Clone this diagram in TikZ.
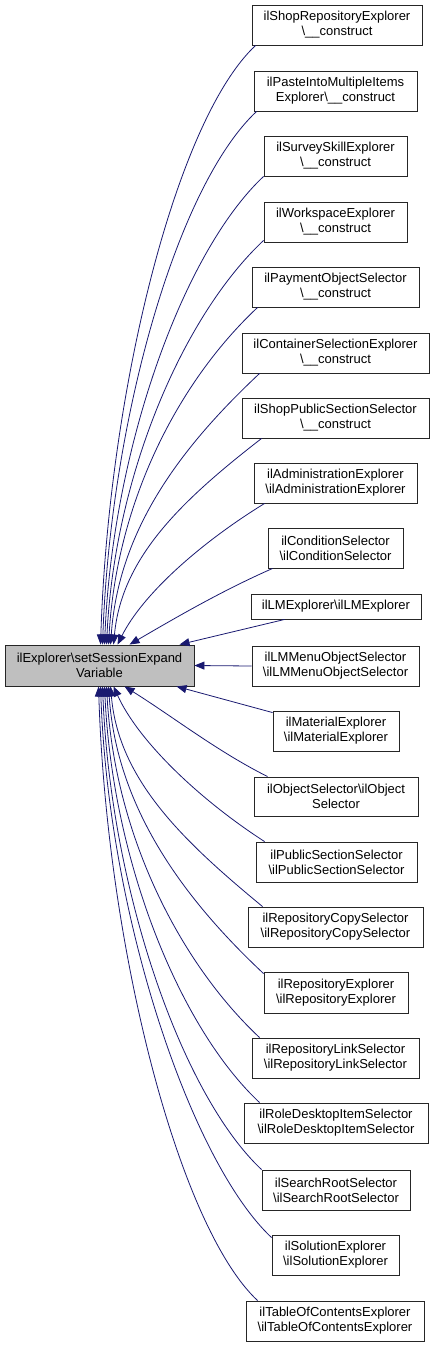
\documentclass[tikz,border=0pt]{standalone}
\usepackage{fontspec}
\setmainfont{Liberation Sans}
\usetikzlibrary{arrows.meta}
\definecolor{edgeblue}{HTML}{191970}
\definecolor{boxgray}{HTML}{BFBFBF}
\begin{document}
\begin{tikzpicture}[x=1pt,y=-1pt,
  cls/.style={draw=black!85,line width=0.9pt,fill=white,inner sep=0pt,align=center,
    minimum height=40pt,font=\fontsize{13}{15}\selectfont},
  wd/.style={minimum width=#1},
  main/.style={cls,fill=boxgray,minimum height=41pt},
  edge/.style={draw=edgeblue,line width=0.8pt,-{Triangle[length=10pt,width=8pt]}}]
\useasboundingbox (0,0) rectangle (435,1345);
\node[main,wd=189pt] (L) at (99.5,665.5) {ilExplorer\textbackslash setSessionExpand\\Variable};
\node[cls,wd=170pt] (n1) at (337,25) {ilShopRepositoryExplorer\\\textbackslash\_\_construct};
\node[cls,wd=163pt] (n2) at (335.5,91) {ilPasteIntoMultipleItems\\Explorer\textbackslash\_\_construct};
\node[cls,wd=143pt] (n3) at (335.5,156) {ilSurveySkillExplorer\\\textbackslash\_\_construct};
\node[cls,wd=143pt] (n4) at (335.5,222) {ilWorkspaceExplorer\\\textbackslash\_\_construct};
\node[cls,wd=167pt] (n5) at (335.5,287) {ilPaymentObjectSelector\\\textbackslash\_\_construct};
\node[cls,wd=187pt] (n6) at (335.5,353) {ilContainerSelectionExplorer\\\textbackslash\_\_construct};
\node[cls,wd=187pt] (n7) at (335.5,418) {ilShopPublicSectionSelector\\\textbackslash\_\_construct};
\node[cls,wd=163pt] (n8) at (335.5,483) {ilAdministrationExplorer\\\textbackslash ilAdministrationExplorer};
\node[cls,wd=135pt] (n9) at (335.5,548) {ilConditionSelector\\\textbackslash ilConditionSelector};
\node[cls,wd=170pt,minimum height=25pt] (n10) at (336,606.5) {ilLMExplorer\textbackslash ilLMExplorer};
\node[cls,wd=167pt] (n11) at (335.5,666) {ilLMMenuObjectSelector\\\textbackslash ilLMMenuObjectSelector};
\node[cls,wd=126pt] (n12) at (336,731) {ilMaterialExplorer\\\textbackslash ilMaterialExplorer};
\node[cls,wd=164pt,minimum height=39pt] (n13) at (336,796.5) {ilObjectSelector\textbackslash ilObject\\Selector};
\node[cls,wd=161pt] (n14) at (336.5,862) {ilPublicSectionSelector\\\textbackslash ilPublicSectionSelector};
\node[cls,wd=175pt] (n15) at (335.5,927) {ilRepositoryCopySelector\\\textbackslash ilRepositoryCopySelector};
\node[cls,wd=144pt,minimum height=41pt] (n16) at (336,992.5) {ilRepositoryExplorer\\\textbackslash ilRepositoryExplorer};
\node[cls,wd=167pt] (n17) at (335.5,1058) {ilRepositoryLinkSelector\\\textbackslash ilRepositoryLinkSelector};
\node[cls,wd=184pt] (n18) at (336,1123) {ilRoleDesktopItemSelector\\\textbackslash ilRoleDesktopItemSelector};
\node[cls,wd=148pt] (n19) at (336,1190) {ilSearchRootSelector\\\textbackslash ilSearchRootSelector};
\node[cls,wd=127pt] (n20) at (335.5,1255) {ilSolutionExplorer\\\textbackslash ilSolutionExplorer};
\node[cls,wd=178pt] (n21) at (335,1321) {ilTableOfContentsExplorer\\\textbackslash ilTableOfContentsExplorer};
% upper edges
\draw[edge] ([xshift=4pt]n1.south west) .. controls +(-80,75) and +(8,-252) .. ([xshift=96pt]L.north west);
\draw[edge] ([xshift=3pt]n2.south west) .. controls +(-80,75) and +(8,-224) .. ([xshift=98pt]L.north west);
\draw[edge] (n3.south west) .. controls +(-80,75) and +(8,-197) .. ([xshift=100pt]L.north west);
\draw[edge] ([yshift=2pt]n4.south west) .. controls +(-80,75) and +(8,-170) .. ([xshift=102pt]L.north west);
\draw[edge] ([xshift=6pt]n5.south west) .. controls +(-80,75) and +(8,-142) .. ([xshift=104pt]L.north west);
\draw[edge] ([xshift=18pt]n6.south west) .. controls +(-80,75) and +(8,-114) .. ([xshift=106pt]L.north west);
\draw[edge] ([xshift=20pt]n7.south west) .. controls +(-80,62) and +(8,-87) .. ([xshift=109pt]L.north west);
\draw[edge] ([xshift=11pt]n8.south west) .. controls +(-65,40) and +(25,-50) .. ([xshift=113pt]L.north west);
\draw[edge] ([xshift=5pt]n9.south west) .. controls +(-50,22) and +(48,-28) .. ([xshift=125pt]L.north west);
\draw[edge] ([xshift=34pt]n10.south west) -- ([xshift=175pt]L.north west);
\draw[edge] (n11.west) -- (L.east);
% lower edges
\draw[edge] ([yshift=-2pt]n12.north west) -- ([xshift=172pt]L.south west);
\draw[edge] ([xshift=14pt]n13.north west) .. controls +(-50,-25) and +(48,30) .. ([xshift=120pt]L.south west);
\draw[edge] ([xshift=9pt]n14.north west) .. controls +(-65,-42) and +(25,55) .. ([xshift=109pt]L.south west);
\draw[edge] ([xshift=15pt]n15.north west) .. controls +(-80,-66) and +(8,93) .. ([xshift=106pt]L.south west);
\draw[edge] ([yshift=-2pt]n16.north west) .. controls +(-80,-75) and +(8,121) .. ([xshift=104pt]L.south west);
\draw[edge] ([xshift=8pt]n17.north west) .. controls +(-80,-75) and +(8,148) .. ([xshift=102pt]L.south west);
\draw[edge] ([xshift=16pt]n18.north west) .. controls +(-80,-75) and +(8,175) .. ([xshift=100pt]L.south west);
\draw[edge] (n19.north west) .. controls +(-80,-75) and +(8,203) .. ([xshift=98pt]L.south west);
\draw[edge] ([yshift=-3pt]n20.north west) .. controls +(-80,-75) and +(8,232) .. ([xshift=96pt]L.south west);
\draw[edge] ([xshift=12pt]n21.north west) .. controls +(-80,-75) and +(8,258) .. ([xshift=94pt]L.south west);
\end{tikzpicture}
\end{document}
